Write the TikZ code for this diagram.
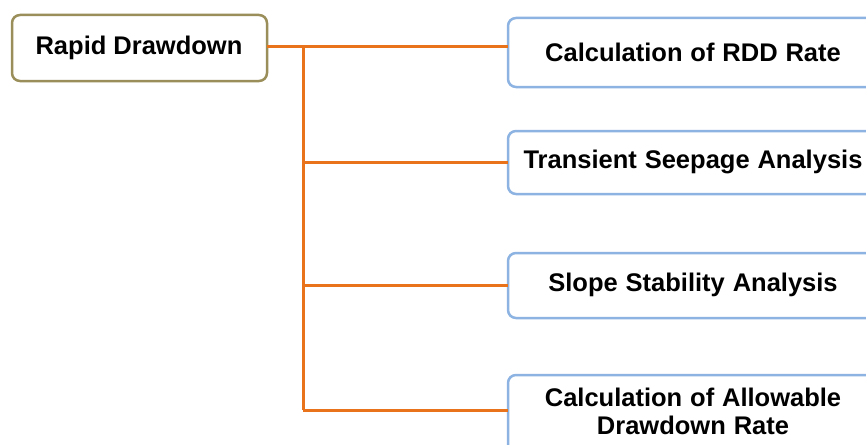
\documentclass[tikz,border=0pt]{standalone}
\usepackage{fontspec}
\setmainfont{Liberation Sans}
\newcommand{\gap}{\hspace{0.8pt} }
\begin{document}
\begin{tikzpicture}[x=1pt,y=-1pt,
  rootbox/.style={draw=rootc, line width=2.5pt, rounded corners=8pt, fill=white},
  stepbox/.style={draw=stepc, line width=2.5pt, rounded corners=8pt, fill=white},
  label/.style={font=\fontsize{25.5}{28}\selectfont\bfseries, align=center, inner sep=0pt},
  link/.style={draw=linkc, line width=3pt}]
\definecolor{rootc}{HTML}{9A8F5A}
\definecolor{stepc}{HTML}{8DB3E2}
\definecolor{linkc}{HTML}{E8731A}
\useasboundingbox (0,0) rectangle (866,444);
\clip (0,0) rectangle (866,444);

% root box
\draw[rootbox] (12,15) rectangle (267,81);
\node[label] (root) at (139,48) {Rapid Drawdown};
\coordinate (rootR) at (267,47);

% step boxes (they run past the right and bottom edges)
\draw[stepbox] (508,18) rectangle (880,87);
\draw[stepbox] (508,131) rectangle (880,194);
\draw[stepbox] (508,253) rectangle (880,318);
\draw[stepbox] (508,375) rectangle (880,460);
\node[label] (s1) at (693,52) {Calculation\gap of\gap RDD\gap Rate};
\node[label] (s2) at (693,162) {Transient\gap Seepage\gap Analysis};
\node[label] (s3) at (693,285) {Slope\gap Stability\gap Analysis};
\node[label] (s4) at (693,411) {Calculation\gap of\gap Allowable\\Drawdown\gap Rate};

\coordinate (b1) at (508,47);
\coordinate (b2) at (508,162);
\coordinate (b3) at (508,285);
\coordinate (b4) at (508,410);
\coordinate (trunk) at (303,47);

% connectors
\draw[link] (rootR) -- (b1);
\draw[link] (trunk) -- (trunk |- b4);
\draw[link] (trunk |- b2) -- (b2);
\draw[link] (trunk |- b3) -- (b3);
\draw[link] (trunk |- b4) -- (b4);
\end{tikzpicture}
\end{document}
